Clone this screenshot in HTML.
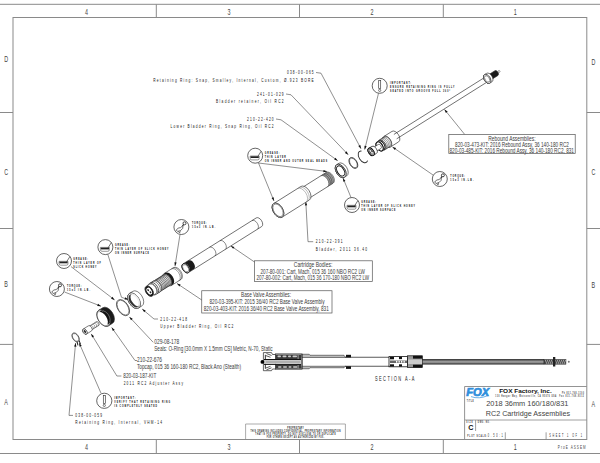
<!DOCTYPE html><html><head><meta charset="utf-8"><style>html,body{margin:0;padding:0;background:#fff;width:600px;height:463px;overflow:hidden}svg{display:block}</style></head><body>
<svg width="600" height="463" viewBox="0 0 600 463">
<rect width="600" height="463" fill="#fff"/>
<line x1="0.00" y1="4.30" x2="600.00" y2="4.30" stroke="#8a8a8a" stroke-width="1.0"/>
<line x1="0.00" y1="453.50" x2="600.00" y2="453.50" stroke="#8a8a8a" stroke-width="1.0"/>
<rect x="13" y="17.5" width="573.8" height="422" fill="none" stroke="#8a8a8a" stroke-width="1.0"/>
<line x1="156.30" y1="4.30" x2="156.30" y2="17.50" stroke="#8a8a8a" stroke-width="1.0"/>
<line x1="156.30" y1="439.50" x2="156.30" y2="453.50" stroke="#8a8a8a" stroke-width="1.0"/>
<line x1="299.50" y1="4.30" x2="299.50" y2="17.50" stroke="#8a8a8a" stroke-width="1.0"/>
<line x1="299.50" y1="439.50" x2="299.50" y2="453.50" stroke="#8a8a8a" stroke-width="1.0"/>
<line x1="443.30" y1="4.30" x2="443.30" y2="17.50" stroke="#8a8a8a" stroke-width="1.0"/>
<line x1="443.30" y1="439.50" x2="443.30" y2="453.50" stroke="#8a8a8a" stroke-width="1.0"/>
<line x1="0.00" y1="112.50" x2="13.00" y2="112.50" stroke="#8a8a8a" stroke-width="1.0"/>
<line x1="586.80" y1="112.50" x2="600.00" y2="112.50" stroke="#8a8a8a" stroke-width="1.0"/>
<line x1="0.00" y1="228.50" x2="13.00" y2="228.50" stroke="#8a8a8a" stroke-width="1.0"/>
<line x1="586.80" y1="228.50" x2="600.00" y2="228.50" stroke="#8a8a8a" stroke-width="1.0"/>
<line x1="0.00" y1="344.40" x2="13.00" y2="344.40" stroke="#8a8a8a" stroke-width="1.0"/>
<line x1="586.80" y1="344.40" x2="600.00" y2="344.40" stroke="#8a8a8a" stroke-width="1.0"/>
<text transform="translate(86.4,14.6) scale(0.55,1)" font-family='"Liberation Sans", sans-serif' font-size="9.8" text-anchor="middle" fill="#444">4</text>
<text transform="translate(86.4,450.2) scale(0.55,1)" font-family='"Liberation Sans", sans-serif' font-size="9.8" text-anchor="middle" fill="#444">4</text>
<text transform="translate(229,14.6) scale(0.55,1)" font-family='"Liberation Sans", sans-serif' font-size="9.8" text-anchor="middle" fill="#444">3</text>
<text transform="translate(229,450.2) scale(0.55,1)" font-family='"Liberation Sans", sans-serif' font-size="9.8" text-anchor="middle" fill="#444">3</text>
<text transform="translate(372,14.6) scale(0.55,1)" font-family='"Liberation Sans", sans-serif' font-size="9.8" text-anchor="middle" fill="#444">2</text>
<text transform="translate(372,450.2) scale(0.55,1)" font-family='"Liberation Sans", sans-serif' font-size="9.8" text-anchor="middle" fill="#444">2</text>
<text transform="translate(515.3,14.6) scale(0.55,1)" font-family='"Liberation Sans", sans-serif' font-size="9.8" text-anchor="middle" fill="#444">1</text>
<text transform="translate(515.3,450.2) scale(0.55,1)" font-family='"Liberation Sans", sans-serif' font-size="9.8" text-anchor="middle" fill="#444">1</text>
<text transform="translate(6.1,61.6) scale(0.55,1)" font-family='"Liberation Sans", sans-serif' font-size="9.8" text-anchor="middle" fill="#444">D</text>
<text transform="translate(6.1,175.0) scale(0.55,1)" font-family='"Liberation Sans", sans-serif' font-size="9.8" text-anchor="middle" fill="#444">C</text>
<text transform="translate(6.1,286.59999999999997) scale(0.55,1)" font-family='"Liberation Sans", sans-serif' font-size="9.8" text-anchor="middle" fill="#444">B</text>
<text transform="translate(6.1,405.2) scale(0.55,1)" font-family='"Liberation Sans", sans-serif' font-size="9.8" text-anchor="middle" fill="#444">A</text>
<text transform="translate(593.4,64.60000000000001) scale(0.55,1)" font-family='"Liberation Sans", sans-serif' font-size="9.8" text-anchor="middle" fill="#444">D</text>
<text transform="translate(593.4,175.20000000000002) scale(0.55,1)" font-family='"Liberation Sans", sans-serif' font-size="9.8" text-anchor="middle" fill="#444">C</text>
<text transform="translate(593.4,288.09999999999997) scale(0.55,1)" font-family='"Liberation Sans", sans-serif' font-size="9.8" text-anchor="middle" fill="#444">B</text>
<text transform="translate(593.4,406.7) scale(0.55,1)" font-family='"Liberation Sans", sans-serif' font-size="9.8" text-anchor="middle" fill="#444">A</text>
<text transform="translate(557.85,448.68) scale(0.55,1)" font-family='"Liberation Sans", sans-serif' font-size="5.6" fill="#444" font-weight="normal"textLength="50.55" lengthAdjust="spacing">ProE ASSEM</text>
<line x1="464.60" y1="386.50" x2="586.80" y2="386.50" stroke="#888" stroke-width="0.9"/>
<line x1="464.60" y1="386.50" x2="464.60" y2="439.50" stroke="#888" stroke-width="0.9"/>
<line x1="464.80" y1="420.00" x2="586.80" y2="420.00" stroke="#888" stroke-width="0.8"/>
<line x1="475.60" y1="420.00" x2="475.60" y2="431.00" stroke="#888" stroke-width="0.8"/>
<line x1="505.30" y1="432.30" x2="505.30" y2="439.50" stroke="#888" stroke-width="0.8"/>
<line x1="546.10" y1="432.30" x2="546.10" y2="439.50" stroke="#888" stroke-width="0.8"/>
<text transform="translate(466.2,396) scale(1.12,1)" font-family='"Liberation Sans", sans-serif' font-size="10.8" font-weight="bold" font-style="italic" fill="#2f8fdc" stroke="#2f8fdc" stroke-width="0.7" textLength="20.5" lengthAdjust="spacingAndGlyphs">FOX</text>
<path d="M471,396.6 Q479,399.5 488,395.5" stroke="#2f8fdc" stroke-width="0.7" fill="none"/>
<text x="499.20" y="393.16" font-family='"Liberation Sans", sans-serif' font-size="6.0" text-anchor="start" fill="#111" font-weight="bold" textLength="52.50" lengthAdjust="spacingAndGlyphs">FOX  Factory,  Inc.</text>
<text transform="translate(495.35,397.07) scale(0.6,1)" font-family='"Liberation Sans", sans-serif' font-size="2.9" fill="#333" font-weight="bold"textLength="101.67" lengthAdjust="spacing">130 Hangar Way, Watsonville, CA 95076 USA</text>
<text transform="translate(562.05,393.57) scale(0.6,1)" font-family='"Liberation Sans", sans-serif' font-size="2.9" fill="#333" font-weight="bold"textLength="36.33" lengthAdjust="spacing">Ph 831-768-1100</text>
<text transform="translate(559.35,397.07) scale(0.6,1)" font-family='"Liberation Sans", sans-serif' font-size="2.9" fill="#333" font-weight="bold"textLength="40.83" lengthAdjust="spacing">Fax 831-768-9312</text>
<text transform="translate(466.85,401.67) scale(0.6,1)" font-family='"Liberation Sans", sans-serif' font-size="2.9" fill="#333" font-weight="bold"textLength="11.33" lengthAdjust="spacing">TITLE</text>
<text x="486.20" y="405.84" font-family='"Liberation Sans", sans-serif' font-size="7.9" text-anchor="start" fill="#444" font-weight="normal" textLength="82.20" lengthAdjust="spacingAndGlyphs">2018 36mm 160/180/831</text>
<text x="485.80" y="415.84" font-family='"Liberation Sans", sans-serif' font-size="7.9" text-anchor="start" fill="#444" font-weight="normal" textLength="84.20" lengthAdjust="spacingAndGlyphs">RC2 Cartridge Assemblies</text>
<text transform="translate(466.15,422.67) scale(0.6,1)" font-family='"Liberation Sans", sans-serif' font-size="2.9" fill="#333" font-weight="bold"textLength="10.83" lengthAdjust="spacing">SIZE</text>
<text transform="translate(477.85,422.67) scale(0.6,1)" font-family='"Liberation Sans", sans-serif' font-size="2.9" fill="#333" font-weight="bold"textLength="20.17" lengthAdjust="spacing">DWG. NO.</text>
<text x="468.30" y="429.59" font-family='"Liberation Sans", sans-serif' font-size="7.2" text-anchor="start" fill="#111" font-weight="bold">C</text>
<text transform="translate(467.35,436.56) scale(0.6,1)" font-family='"Liberation Sans", sans-serif' font-size="3.2" fill="#333" font-weight="bold"textLength="32.75" lengthAdjust="spacing">PLOT SCALE:</text>
<text transform="translate(487.85,436.98) scale(0.5,1)" font-family='"Liberation Sans", sans-serif' font-size="4.6" fill="#222" font-weight="normal"textLength="29.80" lengthAdjust="spacing">0.50:1</text>
<text transform="translate(549.35,436.98) scale(0.5,1)" font-family='"Liberation Sans", sans-serif' font-size="4.6" fill="#222" font-weight="normal"textLength="65.32" lengthAdjust="spacing">SHEET 1 OF 1</text>
<path d="M245.6,439.5 V424 H345.4 V439.5" fill="none" stroke="#888" stroke-width="0.7"/>
<text transform="translate(287.35,428.80) scale(0.6,1)" font-family='"Liberation Sans", sans-serif' font-size="3.0" fill="#111" font-weight="bold"textLength="27.17" lengthAdjust="spacing">PROPRIETARY</text>
<text transform="translate(250.55,431.80) scale(0.6,1)" font-family='"Liberation Sans", sans-serif' font-size="3.0" fill="#111" font-weight="bold"textLength="149.83" lengthAdjust="spacing">THIS DRAWING INCLUDES CONFIDENTIAL, PROPRIETARY INFORMATION</text>
<text transform="translate(255.35,434.80) scale(0.6,1)" font-family='"Liberation Sans", sans-serif' font-size="3.0" fill="#111" font-weight="bold"textLength="133.83" lengthAdjust="spacing">THAT IS FOX PROPERTY. DO NOT DISCLOSE TO OR DUPLICATE</text>
<text transform="translate(266.85,437.80) scale(0.6,1)" font-family='"Liberation Sans", sans-serif' font-size="3.0" fill="#111" font-weight="bold"textLength="95.50" lengthAdjust="spacing">FOR OTHERS EXCEPT AS AUTHORIZED BY FOX.</text>
<rect x="448.8" y="134.5" width="126.40" height="19.10" fill="none" stroke="#555" stroke-width="0.7"/>
<text x="488.20" y="140.98" font-family='"Liberation Sans", sans-serif' font-size="6.6" text-anchor="start" fill="#3a3a3a" font-weight="normal" textLength="47.30" lengthAdjust="spacingAndGlyphs">Rebound Assemblies:</text>
<text x="455.10" y="147.08" font-family='"Liberation Sans", sans-serif' font-size="6.6" text-anchor="start" fill="#3a3a3a" font-weight="normal" textLength="113.80" lengthAdjust="spacingAndGlyphs">820-03-473-KIT: 2016 Rebound Assy, 36 140-180 RC2</text>
<text x="449.50" y="152.98" font-family='"Liberation Sans", sans-serif' font-size="6.6" text-anchor="start" fill="#3a3a3a" font-weight="normal" textLength="124.50" lengthAdjust="spacingAndGlyphs">820-03-485-KIT: 2016 Rebound Assy, 36 140-180 RC2, 831</text>
<rect x="254.5" y="260.8" width="117.80" height="20.60" fill="none" stroke="#555" stroke-width="0.7"/>
<text x="293.80" y="267.48" font-family='"Liberation Sans", sans-serif' font-size="6.6" text-anchor="start" fill="#3a3a3a" font-weight="normal" textLength="38.60" lengthAdjust="spacingAndGlyphs">Cartridge Bodies:</text>
<text x="260.50" y="273.98" font-family='"Liberation Sans", sans-serif' font-size="6.6" text-anchor="start" fill="#3a3a3a" font-weight="normal" textLength="104.50" lengthAdjust="spacingAndGlyphs">207-80-001: Cart, Mach, 015 36 160 NBO RC2 LW</text>
<text x="256.50" y="280.28" font-family='"Liberation Sans", sans-serif' font-size="6.6" text-anchor="start" fill="#3a3a3a" font-weight="normal" textLength="112.50" lengthAdjust="spacingAndGlyphs">207-80-002: Cart, Mach, 015 36 170-180 NBO RC2 LW</text>
<rect x="201.75" y="290.75" width="130.25" height="22.25" fill="none" stroke="#555" stroke-width="0.7"/>
<text x="241.00" y="297.48" font-family='"Liberation Sans", sans-serif' font-size="6.6" text-anchor="start" fill="#3a3a3a" font-weight="normal" textLength="50.00" lengthAdjust="spacingAndGlyphs">Base Valve Assemblies:</text>
<text x="209.50" y="304.48" font-family='"Liberation Sans", sans-serif' font-size="6.6" text-anchor="start" fill="#3a3a3a" font-weight="normal" textLength="115.00" lengthAdjust="spacingAndGlyphs">820-03-395-KIT: 2015 36/40 RC2 Base Valve Assembly</text>
<text x="203.75" y="310.73" font-family='"Liberation Sans", sans-serif' font-size="6.6" text-anchor="start" fill="#3a3a3a" font-weight="normal" textLength="125.00" lengthAdjust="spacingAndGlyphs">820-03-403-KIT: 2016 36/40 RC2 Base Valve Assembly, 831</text>
<text transform="translate(287.05,74.24) scale(0.55,1)" font-family='"Liberation Sans", sans-serif' font-size="5.8" fill="#111" font-weight="normal"textLength="48.36" lengthAdjust="spacing">038-00-065</text>
<text transform="translate(153.28,81.74) scale(0.55,1)" font-family='"Liberation Sans", sans-serif' font-size="5.8" fill="#111" font-weight="normal"textLength="291.58" lengthAdjust="spacing">Retaining Ring: Snap, Smalley, Internal, Custom, Ø.923 BORE</text>
<text transform="translate(257.05,95.74) scale(0.55,1)" font-family='"Liberation Sans", sans-serif' font-size="5.8" fill="#111" font-weight="normal"textLength="48.36" lengthAdjust="spacing">241-01-029</text>
<text transform="translate(216.10,103.04) scale(0.55,1)" font-family='"Liberation Sans", sans-serif' font-size="5.8" fill="#111" font-weight="normal"textLength="122.82" lengthAdjust="spacing">Bladder retainer, Oil RC2</text>
<text transform="translate(247.05,120.74) scale(0.55,1)" font-family='"Liberation Sans", sans-serif' font-size="5.8" fill="#111" font-weight="normal"textLength="48.36" lengthAdjust="spacing">210-22-420</text>
<text transform="translate(170.61,128.24) scale(0.55,1)" font-family='"Liberation Sans", sans-serif' font-size="5.8" fill="#111" font-weight="normal"textLength="187.35" lengthAdjust="spacing">Lower Bladder Ring, Snap Ring, Oil RC2</text>
<text transform="translate(315.85,243.44) scale(0.55,1)" font-family='"Liberation Sans", sans-serif' font-size="5.8" fill="#111" font-weight="normal"textLength="48.36" lengthAdjust="spacing">210-22-391</text>
<text transform="translate(315.85,250.54) scale(0.55,1)" font-family='"Liberation Sans", sans-serif' font-size="5.8" fill="#111" font-weight="normal"textLength="93.04" lengthAdjust="spacing">Bladder, 2011 36.40</text>
<text transform="translate(160.35,320.74) scale(0.55,1)" font-family='"Liberation Sans", sans-serif' font-size="5.8" fill="#111" font-weight="normal"textLength="48.36" lengthAdjust="spacing">210-22-418</text>
<text transform="translate(160.35,327.74) scale(0.55,1)" font-family='"Liberation Sans", sans-serif' font-size="5.8" fill="#111" font-weight="normal"textLength="132.75" lengthAdjust="spacing">Upper Bladder Ring, Oil RC2</text>
<text transform="translate(123.65,385.14) scale(0.55,1)" font-family='"Liberation Sans", sans-serif' font-size="5.8" fill="#111" font-weight="normal"textLength="107.93" lengthAdjust="spacing">2011 RC2 Adjuster Assy</text>
<text transform="translate(75.35,417.14) scale(0.55,1)" font-family='"Liberation Sans", sans-serif' font-size="5.8" fill="#111" font-weight="normal"textLength="48.36" lengthAdjust="spacing">038-00-059</text>
<text transform="translate(75.35,424.34) scale(0.55,1)" font-family='"Liberation Sans", sans-serif' font-size="5.8" fill="#111" font-weight="normal"textLength="157.56" lengthAdjust="spacing">Retaining Ring, Internal, VHM-14</text>
<text x="154.20" y="344.28" font-family='"Liberation Sans", sans-serif' font-size="6.6" text-anchor="start" fill="#3a3a3a" font-weight="normal" textLength="25.00" lengthAdjust="spacingAndGlyphs">029-08-178</text>
<text x="154.20" y="351.18" font-family='"Liberation Sans", sans-serif' font-size="6.6" text-anchor="start" fill="#3a3a3a" font-weight="normal" textLength="118.50" lengthAdjust="spacingAndGlyphs">Seals: O-Ring [30.0mm X 1.5mm CS] Metric, N-70, Static</text>
<text x="137.00" y="362.48" font-family='"Liberation Sans", sans-serif' font-size="6.6" text-anchor="start" fill="#3a3a3a" font-weight="normal" textLength="25.00" lengthAdjust="spacingAndGlyphs">210-22-676</text>
<text x="137.00" y="369.18" font-family='"Liberation Sans", sans-serif' font-size="6.6" text-anchor="start" fill="#3a3a3a" font-weight="normal" textLength="104.00" lengthAdjust="spacingAndGlyphs">Topcap, 015 36 160-180 RC2, Black Ano (Stealth)</text>
<text x="123.30" y="377.98" font-family='"Liberation Sans", sans-serif' font-size="6.6" text-anchor="start" fill="#3a3a3a" font-weight="normal" textLength="33.00" lengthAdjust="spacingAndGlyphs">820-03-187-KIT</text>
<text transform="translate(374.95,381.18) scale(0.6,1)" font-family='"Liberation Sans", sans-serif' font-size="6.6" fill="#222" font-weight="normal"textLength="65.83" lengthAdjust="spacing">SECTION  A-A</text>
<text transform="translate(390.05,83.64) scale(0.55,1)" font-family='"Liberation Sans", sans-serif' font-size="3.8" fill="#000" font-weight="bold"textLength="38.18" lengthAdjust="spacing">IMPORTANT:</text>
<text transform="translate(390.05,87.64) scale(0.55,1)" font-family='"Liberation Sans", sans-serif' font-size="3.8" fill="#000" font-weight="bold"textLength="117.09" lengthAdjust="spacing">ENSURE RETAINING RING IS FULLY</text>
<text transform="translate(390.05,91.64) scale(0.55,1)" font-family='"Liberation Sans", sans-serif' font-size="3.8" fill="#000" font-weight="bold"textLength="109.20" lengthAdjust="spacing">SEATED INTO GROOVE FULL 360°</text>
<text transform="translate(264.85,154.34) scale(0.55,1)" font-family='"Liberation Sans", sans-serif' font-size="3.8" fill="#000" font-weight="bold"textLength="26.35" lengthAdjust="spacing">GREASE:</text>
<text transform="translate(264.85,158.34) scale(0.55,1)" font-family='"Liberation Sans", sans-serif' font-size="3.8" fill="#000" font-weight="bold"textLength="38.18" lengthAdjust="spacing">THIN LAYER</text>
<text transform="translate(264.85,162.34) scale(0.55,1)" font-family='"Liberation Sans", sans-serif' font-size="3.8" fill="#000" font-weight="bold"textLength="113.15" lengthAdjust="spacing">ON INNER AND OUTER SEAL BEADS</text>
<text transform="translate(361.35,203.14) scale(0.55,1)" font-family='"Liberation Sans", sans-serif' font-size="3.8" fill="#000" font-weight="bold"textLength="26.35" lengthAdjust="spacing">GREASE:</text>
<text transform="translate(361.35,207.14) scale(0.55,1)" font-family='"Liberation Sans", sans-serif' font-size="3.8" fill="#000" font-weight="bold"textLength="97.36" lengthAdjust="spacing">THIN LAYER OF SLICK HONEY</text>
<text transform="translate(361.35,211.14) scale(0.55,1)" font-family='"Liberation Sans", sans-serif' font-size="3.8" fill="#000" font-weight="bold"textLength="61.85" lengthAdjust="spacing">ON INNER SURFACE</text>
<text transform="translate(450.35,177.34) scale(0.55,1)" font-family='"Liberation Sans", sans-serif' font-size="3.8" fill="#000" font-weight="bold"textLength="26.35" lengthAdjust="spacing">TORQUE:</text>
<text transform="translate(450.35,181.34) scale(0.55,1)" font-family='"Liberation Sans", sans-serif' font-size="3.8" fill="#000" font-weight="bold"textLength="42.13" lengthAdjust="spacing">15±3 IN.LB.</text>
<text transform="translate(192.05,224.34) scale(0.55,1)" font-family='"Liberation Sans", sans-serif' font-size="3.8" fill="#000" font-weight="bold"textLength="26.35" lengthAdjust="spacing">TORQUE:</text>
<text transform="translate(192.05,228.34) scale(0.55,1)" font-family='"Liberation Sans", sans-serif' font-size="3.8" fill="#000" font-weight="bold"textLength="42.13" lengthAdjust="spacing">15±3 IN.LB.</text>
<text transform="translate(114.95,245.74) scale(0.55,1)" font-family='"Liberation Sans", sans-serif' font-size="3.8" fill="#000" font-weight="bold"textLength="26.35" lengthAdjust="spacing">GREASE:</text>
<text transform="translate(114.95,249.74) scale(0.55,1)" font-family='"Liberation Sans", sans-serif' font-size="3.8" fill="#000" font-weight="bold"textLength="97.36" lengthAdjust="spacing">THIN LAYER OF SLICK HONEY</text>
<text transform="translate(114.95,253.74) scale(0.55,1)" font-family='"Liberation Sans", sans-serif' font-size="3.8" fill="#000" font-weight="bold"textLength="61.85" lengthAdjust="spacing">ON INNER SURFACE</text>
<text transform="translate(73.35,259.74) scale(0.55,1)" font-family='"Liberation Sans", sans-serif' font-size="3.8" fill="#000" font-weight="bold"textLength="26.35" lengthAdjust="spacing">GREASE:</text>
<text transform="translate(73.35,263.74) scale(0.55,1)" font-family='"Liberation Sans", sans-serif' font-size="3.8" fill="#000" font-weight="bold"textLength="50.02" lengthAdjust="spacing">THIN LAYER OF</text>
<text transform="translate(73.35,267.74) scale(0.55,1)" font-family='"Liberation Sans", sans-serif' font-size="3.8" fill="#000" font-weight="bold"textLength="42.13" lengthAdjust="spacing">SLICK HONEY</text>
<text transform="translate(66.95,287.34) scale(0.55,1)" font-family='"Liberation Sans", sans-serif' font-size="3.8" fill="#000" font-weight="bold"textLength="26.35" lengthAdjust="spacing">TORQUE:</text>
<text transform="translate(66.95,291.34) scale(0.55,1)" font-family='"Liberation Sans", sans-serif' font-size="3.8" fill="#000" font-weight="bold"textLength="42.13" lengthAdjust="spacing">15±3 IN.LB.</text>
<text transform="translate(114.35,398.74) scale(0.55,1)" font-family='"Liberation Sans", sans-serif' font-size="3.8" fill="#000" font-weight="bold"textLength="38.18" lengthAdjust="spacing">IMPORTANT:</text>
<text transform="translate(114.35,402.74) scale(0.55,1)" font-family='"Liberation Sans", sans-serif' font-size="3.8" fill="#000" font-weight="bold"textLength="101.31" lengthAdjust="spacing">VERIFY THAT RETAINING RING</text>
<text transform="translate(114.35,406.74) scale(0.55,1)" font-family='"Liberation Sans", sans-serif' font-size="3.8" fill="#000" font-weight="bold"textLength="77.64" lengthAdjust="spacing">IS COMPLETELY SEATED</text>
<circle cx="379.7" cy="85.8" r="7.5" fill="none" stroke="#333" stroke-width="0.75"/>
<rect x="378.7" y="80.39999999999999" width="2" height="8.2" fill="#fff" stroke="#333" stroke-width="0.65"/>
<circle cx="379.7" cy="90.39999999999999" r="1.1" fill="none" stroke="#333" stroke-width="0.65"/>
<circle cx="104.3" cy="400.8" r="7.6" fill="none" stroke="#333" stroke-width="0.75"/>
<rect x="103.3" y="395.40000000000003" width="2" height="8.2" fill="#fff" stroke="#333" stroke-width="0.65"/>
<circle cx="104.3" cy="405.40000000000003" r="1.1" fill="none" stroke="#333" stroke-width="0.65"/>
<circle cx="255.2" cy="155.7" r="7.5" fill="none" stroke="#333" stroke-width="0.75"/>
<path d="M250.2,156.0 H259.2 V158.29999999999998 Q259.2,159.89999999999998 257.59999999999997,159.89999999999998 H251.79999999999998 Q250.2,159.89999999999998 250.2,158.29999999999998 Z" fill="none" stroke="#333" stroke-width="0.5"/>
<rect x="250.6" y="156.29999999999998" width="8.2" height="1.7" fill="#222"/>
<line x1="257.80" y1="156.50" x2="261.10" y2="151.30" stroke="#333" stroke-width="0.7"/>
<circle cx="352" cy="205" r="7.5" fill="none" stroke="#333" stroke-width="0.75"/>
<path d="M347,205.3 H356 V207.6 Q356,209.2 354.4,209.2 H348.6 Q347,209.2 347,207.6 Z" fill="none" stroke="#333" stroke-width="0.5"/>
<rect x="347.4" y="205.6" width="8.2" height="1.7" fill="#222"/>
<line x1="354.60" y1="205.80" x2="357.90" y2="200.60" stroke="#333" stroke-width="0.7"/>
<circle cx="105.4" cy="247.1" r="7.5" fill="none" stroke="#333" stroke-width="0.75"/>
<path d="M100.4,247.4 H109.4 V249.7 Q109.4,251.29999999999998 107.80000000000001,251.29999999999998 H102.0 Q100.4,251.29999999999998 100.4,249.7 Z" fill="none" stroke="#333" stroke-width="0.5"/>
<rect x="100.80000000000001" y="247.7" width="8.2" height="1.7" fill="#222"/>
<line x1="108.00" y1="247.90" x2="111.30" y2="242.70" stroke="#333" stroke-width="0.7"/>
<circle cx="64" cy="261" r="7.5" fill="none" stroke="#333" stroke-width="0.75"/>
<path d="M59,261.3 H68 V263.6 Q68,265.2 66.4,265.2 H60.6 Q59,265.2 59,263.6 Z" fill="none" stroke="#333" stroke-width="0.5"/>
<rect x="59.4" y="261.6" width="8.2" height="1.7" fill="#222"/>
<line x1="66.60" y1="261.80" x2="69.90" y2="256.60" stroke="#333" stroke-width="0.7"/>
<circle cx="439.8" cy="179" r="7.5" fill="none" stroke="#333" stroke-width="0.75"/>
<path d="M434.6,182.2 Q436.3,179.2 439.0,179.6 L441.40000000000003,177.4 L441.1,180.4 Q439.3,183.2 436.2,183.4 Z" fill="#fff" stroke="#333" stroke-width="0.7"/>
<path d="M436.8,183.3 L438.0,185 L438.8,182.8" fill="none" stroke="#333" stroke-width="0.6"/>
<line x1="441.00" y1="177.80" x2="442.10" y2="176.40" stroke="#333" stroke-width="1.1"/>
<circle cx="442.90000000000003" cy="175.3" r="1.5" fill="none" stroke="#333" stroke-width="0.9"/>
<circle cx="181.4" cy="227" r="7.5" fill="none" stroke="#333" stroke-width="0.75"/>
<path d="M176.20000000000002,230.2 Q177.9,227.2 180.6,227.6 L183.0,225.4 L182.70000000000002,228.4 Q180.9,231.2 177.8,231.4 Z" fill="#fff" stroke="#333" stroke-width="0.7"/>
<path d="M178.4,231.3 L179.6,233 L180.4,230.8" fill="none" stroke="#333" stroke-width="0.6"/>
<line x1="182.60" y1="225.80" x2="183.70" y2="224.40" stroke="#333" stroke-width="1.1"/>
<circle cx="184.5" cy="223.3" r="1.5" fill="none" stroke="#333" stroke-width="0.9"/>
<circle cx="56.9" cy="289" r="7.5" fill="none" stroke="#333" stroke-width="0.75"/>
<path d="M51.699999999999996,292.2 Q53.4,289.2 56.1,289.6 L58.5,287.4 L58.199999999999996,290.4 Q56.4,293.2 53.3,293.4 Z" fill="#fff" stroke="#333" stroke-width="0.7"/>
<path d="M53.9,293.3 L55.1,295 L55.9,292.8" fill="none" stroke="#333" stroke-width="0.6"/>
<line x1="58.10" y1="287.80" x2="59.20" y2="286.40" stroke="#333" stroke-width="1.1"/>
<circle cx="60.0" cy="285.3" r="1.5" fill="none" stroke="#333" stroke-width="0.9"/>
<path d="M316.00,72.50 L321.00,73.20 L361.00,148.70" stroke="#333" stroke-width="0.55" fill="none"/>
<path d="M361.00,148.70 L358.30,146.06 L360.33,144.98 Z" fill="#111"/>
<path d="M286.00,94.00 L291.00,94.80 L348.20,154.70" stroke="#333" stroke-width="0.55" fill="none"/>
<path d="M348.20,154.70 L344.88,152.89 L346.55,151.30 Z" fill="#111"/>
<path d="M276.00,119.00 L281.00,119.80 L337.70,160.70" stroke="#333" stroke-width="0.55" fill="none"/>
<path d="M337.70,160.70 L334.11,159.53 L335.45,157.66 Z" fill="#111"/>
<path d="M378.50,93.30 L364.70,149.50" stroke="#333" stroke-width="0.55" fill="none"/>
<path d="M364.70,149.50 L364.44,145.73 L366.68,146.28 Z" fill="#111"/>
<path d="M258.50,163.00 L274.00,201.00" stroke="#333" stroke-width="0.55" fill="none"/>
<path d="M274.00,201.00 L271.58,198.10 L273.71,197.23 Z" fill="#111"/>
<path d="M258.50,163.00 L327.00,171.50" stroke="#333" stroke-width="0.55" fill="none"/>
<path d="M327.00,171.50 L323.29,172.20 L323.57,169.92 Z" fill="#111"/>
<path d="M351.00,197.50 L343.00,178.00" stroke="#333" stroke-width="0.55" fill="none"/>
<path d="M343.00,178.00 L345.43,180.89 L343.30,181.77 Z" fill="#111"/>
<path d="M433.00,175.00 L392.50,147.00" stroke="#333" stroke-width="0.55" fill="none"/>
<path d="M392.50,147.00 L396.12,148.10 L394.81,149.99 Z" fill="#111"/>
<path d="M464.50,134.20 L444.50,109.50" stroke="#333" stroke-width="0.55" fill="none"/>
<path d="M444.50,109.50 L447.66,111.57 L445.87,113.02 Z" fill="#111"/>
<path d="M313.20,241.70 L308.00,241.70 L305.80,201.80" stroke="#333" stroke-width="0.55" fill="none"/>
<path d="M305.80,201.80 L307.15,205.33 L304.85,205.46 Z" fill="#111"/>
<path d="M254.50,262.00 L230.80,245.90" stroke="#333" stroke-width="0.55" fill="none"/>
<path d="M230.80,245.90 L234.42,246.97 L233.13,248.87 Z" fill="#111"/>
<path d="M201.75,300.00 L177.00,283.50" stroke="#333" stroke-width="0.55" fill="none"/>
<path d="M177.00,283.50 L180.63,284.54 L179.36,286.45 Z" fill="#111"/>
<path d="M180.00,234.50 L175.00,266.00" stroke="#333" stroke-width="0.55" fill="none"/>
<path d="M175.00,266.00 L174.43,262.26 L176.70,262.62 Z" fill="#111"/>
<path d="M107.80,254.40 L121.50,297.30 L128.30,299.60" stroke="#333" stroke-width="0.55" fill="none"/>
<path d="M128.30,299.60 L124.52,299.54 L125.26,297.36 Z" fill="#111"/>
<path d="M71.00,266.60 L114.60,299.90" stroke="#333" stroke-width="0.55" fill="none"/>
<path d="M114.60,299.90 L111.04,298.63 L112.44,296.80 Z" fill="#111"/>
<path d="M64.50,292.00 L101.00,306.20" stroke="#333" stroke-width="0.55" fill="none"/>
<path d="M101.00,306.20 L97.23,305.97 L98.06,303.82 Z" fill="#111"/>
<path d="M158.00,319.00 L154.00,319.00 L142.20,309.00" stroke="#333" stroke-width="0.55" fill="none"/>
<path d="M142.20,309.00 L145.69,310.45 L144.20,312.20 Z" fill="#111"/>
<path d="M153.20,342.30 L129.40,316.90" stroke="#333" stroke-width="0.55" fill="none"/>
<path d="M129.40,316.90 L132.70,318.74 L131.02,320.31 Z" fill="#111"/>
<path d="M137.00,360.50 L135.00,360.50 L111.70,327.50" stroke="#333" stroke-width="0.55" fill="none"/>
<path d="M111.70,327.50 L114.72,329.78 L112.84,331.10 Z" fill="#111"/>
<path d="M121.40,376.00 L116.90,376.00 L91.20,333.90" stroke="#333" stroke-width="0.55" fill="none"/>
<path d="M91.20,333.90 L94.06,336.37 L92.09,337.57 Z" fill="#111"/>
<path d="M73.00,415.40 L69.00,415.40 L75.60,343.00" stroke="#333" stroke-width="0.55" fill="none"/>
<path d="M75.60,343.00 L76.42,346.69 L74.13,346.48 Z" fill="#111"/>
<path d="M101.00,393.20 L79.20,343.00" stroke="#333" stroke-width="0.55" fill="none"/>
<path d="M79.20,343.00 L81.69,345.84 L79.58,346.76 Z" fill="#111"/>
<g transform="translate(75.6,337.4) rotate(-32.13)">
<ellipse cx="0.00" cy="0" rx="3.00" ry="5.00" fill="none" stroke="#2a2a2a" stroke-width="0.6"/>
<ellipse cx="0.00" cy="0" rx="2.58" ry="4.30" fill="none" stroke="#2a2a2a" stroke-width="0.45"/>
<path d="M-1.2,4.6 L-2.2,8 M1.2,4.6 L0.6,8.2" stroke="#111" stroke-width="0.9"/>
<path d="M17.00,-2.20 L26.00,-2.20 A1.32,2.20 0 0 1 26.00,2.20 L17.00,2.20 A1.32,2.20 0 0 1 17.00,-2.20 Z" fill="#fff" stroke="#2a2a2a" stroke-width="0.5"/>
<ellipse cx="17.00" cy="0" rx="1.32" ry="2.20" fill="#fff" stroke="#2a2a2a" stroke-width="0.5"/>
<path d="M19.00,-2.20 A1.32,2.20 0 0 1 19.00,2.20" fill="none" stroke="#2a2a2a" stroke-width="0.4"/>
<path d="M21.00,-2.20 A1.32,2.20 0 0 1 21.00,2.20" fill="none" stroke="#2a2a2a" stroke-width="0.4"/>
<path d="M23.00,-2.20 A1.32,2.20 0 0 1 23.00,2.20" fill="none" stroke="#2a2a2a" stroke-width="0.4"/>
<path d="M25.00,-2.20 A1.32,2.20 0 0 1 25.00,2.20" fill="none" stroke="#2a2a2a" stroke-width="0.4"/>
<path d="M11.00,-3.00 L17.00,-3.00 A1.80,3.00 0 0 1 17.00,3.00 L11.00,3.00 A1.80,3.00 0 0 1 11.00,-3.00 Z" fill="#fff" stroke="#2a2a2a" stroke-width="0.55"/>
<ellipse cx="11.00" cy="0" rx="1.80" ry="3.00" fill="#fff" stroke="#2a2a2a" stroke-width="0.55"/>
<ellipse cx="11.00" cy="0" rx="1.80" ry="3.00" fill="#fff" stroke="#2a2a2a" stroke-width="0.55"/>
<ellipse cx="11" cy="0" rx="1.0" ry="1.7" fill="#333"/>
<g transform="translate(1,-1.5)">
<path d="M33.00,-9.20 L37.80,-9.20 A5.52,9.20 0 0 1 37.80,9.20 L33.00,9.20 A5.52,9.20 0 0 1 33.00,-9.20 Z" fill="#1a1a1a" stroke="#2a2a2a" stroke-width="0.6"/>
<ellipse cx="33.00" cy="0" rx="5.52" ry="9.20" fill="#fff" stroke="#2a2a2a" stroke-width="0.6"/>
<ellipse cx="33.00" cy="0" rx="4.98" ry="8.30" fill="#fff" stroke="#2a2a2a" stroke-width="0.45"/>
<ellipse cx="34.4" cy="0" rx="4.5" ry="7.7" fill="#111"/>
<ellipse cx="32.0" cy="0" rx="3.9" ry="7.4" fill="#fff"/>
<path d="M35.2,-6.5 A3.6,6.5 0 0 1 35.2,6.5" fill="none" stroke="#999" stroke-width="0.5"/>
</g>
<ellipse cx="56.00" cy="0" rx="5.34" ry="8.90" fill="none" stroke="#2a2a2a" stroke-width="0.65"/>
<ellipse cx="56.00" cy="0" rx="4.86" ry="8.10" fill="none" stroke="#2a2a2a" stroke-width="0.45"/>
<path d="M69.00,-8.60 L73.00,-8.60 A5.16,8.60 0 0 1 73.00,8.60 L69.00,8.60 A5.16,8.60 0 0 1 69.00,-8.60 Z" fill="#fff" stroke="#2a2a2a" stroke-width="0.55"/>
<ellipse cx="69.00" cy="0" rx="5.16" ry="8.60" fill="#fff" stroke="#2a2a2a" stroke-width="0.55"/>
<ellipse cx="69.00" cy="0" rx="5.16" ry="8.60" fill="#fff" stroke="#2a2a2a" stroke-width="0.55"/>
<ellipse cx="69" cy="0" rx="4.4" ry="7.4" fill="#333"/>
<ellipse cx="70.4" cy="0" rx="3.6" ry="6.8" fill="#fff"/>
<path d="M68.60,-7.00 A4.20,7.00 0 0 1 68.60,7.00" fill="none" stroke="#ddd" stroke-width="0.4"/>
<path d="M69.60,-7.00 A4.20,7.00 0 0 1 69.60,7.00" fill="none" stroke="#ddd" stroke-width="0.4"/>
<path d="M109.00,-7.00 L120.00,-7.00 A4.20,7.00 0 0 1 120.00,7.00 L109.00,7.00 A4.20,7.00 0 0 1 109.00,-7.00 Z" fill="#fff" stroke="#2a2a2a" stroke-width="0.55"/>
<ellipse cx="109.00" cy="0" rx="4.20" ry="7.00" fill="#fff" stroke="#2a2a2a" stroke-width="0.55"/>
<path d="M117.50,-7.00 A4.20,7.00 0 0 1 117.50,7.00" fill="none" stroke="#2a2a2a" stroke-width="0.4"/>
<path d="M119.00,-7.00 A4.20,7.00 0 0 1 119.00,7.00" fill="none" stroke="#2a2a2a" stroke-width="0.4"/>
<path d="M107.50,-6.80 L110.50,-6.80 A4.08,6.80 0 0 1 110.50,6.80 L107.50,6.80 A4.08,6.80 0 0 0 107.50,-6.80 Z" fill="#1a1a1a"/>
<path d="M96.00,-6.20 L108.00,-6.20 A3.72,6.20 0 0 1 108.00,6.20 L96.00,6.20 A3.72,6.20 0 0 1 96.00,-6.20 Z" fill="#fff" stroke="#2a2a2a" stroke-width="0.55"/>
<ellipse cx="96.00" cy="0" rx="3.72" ry="6.20" fill="#fff" stroke="#2a2a2a" stroke-width="0.55"/>
<path d="M97.00,-6.20 A3.72,6.20 0 0 1 97.00,6.20" fill="none" stroke="#222" stroke-width="0.55"/>
<path d="M98.30,-6.20 A3.72,6.20 0 0 1 98.30,6.20" fill="none" stroke="#222" stroke-width="0.55"/>
<path d="M99.60,-6.20 A3.72,6.20 0 0 1 99.60,6.20" fill="none" stroke="#222" stroke-width="0.55"/>
<path d="M100.90,-6.20 A3.72,6.20 0 0 1 100.90,6.20" fill="none" stroke="#222" stroke-width="0.55"/>
<path d="M102.20,-6.20 A3.72,6.20 0 0 1 102.20,6.20" fill="none" stroke="#222" stroke-width="0.55"/>
<path d="M103.50,-6.20 A3.72,6.20 0 0 1 103.50,6.20" fill="none" stroke="#222" stroke-width="0.55"/>
<path d="M104.80,-6.20 A3.72,6.20 0 0 1 104.80,6.20" fill="none" stroke="#222" stroke-width="0.55"/>
<path d="M106.10,-6.20 A3.72,6.20 0 0 1 106.10,6.20" fill="none" stroke="#222" stroke-width="0.55"/>
<path d="M107.40,-6.20 A3.72,6.20 0 0 1 107.40,6.20" fill="none" stroke="#222" stroke-width="0.55"/>
<path d="M91.00,-6.40 L96.00,-6.40 A3.84,6.40 0 0 1 96.00,6.40 L91.00,6.40 A3.84,6.40 0 0 1 91.00,-6.40 Z" fill="#fff" stroke="#2a2a2a" stroke-width="0.55"/>
<ellipse cx="91.00" cy="0" rx="3.84" ry="6.40" fill="#fff" stroke="#2a2a2a" stroke-width="0.55"/>
<path d="M92.50,-6.40 A3.84,6.40 0 0 1 92.50,6.40" fill="none" stroke="#2a2a2a" stroke-width="0.7"/>
<path d="M94.50,-6.40 A3.84,6.40 0 0 1 94.50,6.40" fill="none" stroke="#2a2a2a" stroke-width="0.5"/>
<path d="M87.00,-5.60 L91.00,-5.60 A3.36,5.60 0 0 1 91.00,5.60 L87.00,5.60 A3.36,5.60 0 0 1 87.00,-5.60 Z" fill="#fff" stroke="#2a2a2a" stroke-width="0.55"/>
<ellipse cx="87.00" cy="0" rx="3.36" ry="5.60" fill="#fff" stroke="#2a2a2a" stroke-width="0.55"/>
<ellipse cx="87.00" cy="0" rx="3.36" ry="5.60" fill="#111" stroke="#2a2a2a" stroke-width="0.5"/>
<ellipse cx="87" cy="0" rx="2.3" ry="3.8" fill="#fff"/>
<ellipse cx="86.6" cy="-1.5" rx="0.8" ry="1.1" fill="#222"/><ellipse cx="87.4" cy="1.6" rx="0.8" ry="1.1" fill="#222"/>
<path d="M130.00,-5.10 L216.50,-5.10 A3.06,5.10 0 0 1 216.50,5.10 L130.00,5.10 A3.06,5.10 0 0 1 130.00,-5.10 Z" fill="#fff" stroke="#2a2a2a" stroke-width="0.6"/>
<ellipse cx="130.00" cy="0" rx="3.06" ry="5.10" fill="#fff" stroke="#2a2a2a" stroke-width="0.6"/>
<path d="M130.50,-5.10 L136.50,-5.10 A3.06,5.10 0 0 1 136.50,5.10 L130.50,5.10 A3.06,5.10 0 0 0 130.50,-5.10 Z" fill="#1a1a1a"/>
<ellipse cx="130.00" cy="0" rx="3.06" ry="5.10" fill="#fff" stroke="#111" stroke-width="0.8"/>
<ellipse cx="130.00" cy="0" rx="2.40" ry="4.00" fill="#fff" stroke="#2a2a2a" stroke-width="0.45"/>
<path d="M161.30,-5.10 A3.06,5.10 0 0 1 161.30,5.10" fill="none" stroke="#2a2a2a" stroke-width="0.5"/>
<path d="M173.60,-5.10 A3.06,5.10 0 0 1 173.60,5.10" fill="none" stroke="#2a2a2a" stroke-width="0.5"/>
<path d="M211.50,-5.10 A3.06,5.10 0 0 1 211.50,5.10" fill="none" stroke="#2a2a2a" stroke-width="0.5"/>
<path d="M270.00,-6.40 L300.00,-6.40 A3.84,6.40 0 0 1 300.00,6.40 L270.00,6.40 A3.84,6.40 0 0 1 270.00,-6.40 Z" fill="#fff" stroke="#2a2a2a" stroke-width="0.6"/>
<ellipse cx="270.00" cy="0" rx="3.84" ry="6.40" fill="#fff" stroke="#2a2a2a" stroke-width="0.6"/>
<path d="M293.50,-6.40 L299.00,-6.40 A3.84,6.40 0 0 1 299.00,6.40 L293.50,6.40 A3.84,6.40 0 0 0 293.50,-6.40 Z" fill="#999"/>
<path d="M293.50,-6.40 A3.84,6.40 0 0 1 293.50,6.40" fill="none" stroke="#333" stroke-width="0.5"/>
<path d="M295.30,-6.40 A3.84,6.40 0 0 1 295.30,6.40" fill="none" stroke="#333" stroke-width="0.5"/>
<path d="M297.10,-6.40 A3.84,6.40 0 0 1 297.10,6.40" fill="none" stroke="#333" stroke-width="0.5"/>
<path d="M299.00,-6.40 A3.84,6.40 0 0 1 299.00,6.40" fill="none" stroke="#333" stroke-width="0.5"/>
<path d="M239.00,-8.00 L271.00,-8.00 A4.80,8.00 0 0 1 271.00,8.00 L239.00,8.00 A4.80,8.00 0 0 1 239.00,-8.00 Z" fill="#fff" stroke="#2a2a2a" stroke-width="0.6"/>
<ellipse cx="239.00" cy="0" rx="4.80" ry="8.00" fill="#fff" stroke="#2a2a2a" stroke-width="0.6"/>
<ellipse cx="239.00" cy="0" rx="4.80" ry="8.00" fill="#fff" stroke="#2a2a2a" stroke-width="0.6"/>
<ellipse cx="239.00" cy="0" rx="4.20" ry="7.00" fill="#fff" stroke="#2a2a2a" stroke-width="0.5"/>
<path d="M267.00,-8.00 A4.80,8.00 0 0 1 267.00,8.00" fill="none" stroke="#777" stroke-width="0.45"/>
<path d="M269.00,-8.00 A4.80,8.00 0 0 1 269.00,8.00" fill="none" stroke="#777" stroke-width="0.45"/>
<path d="M313.00,-7.40 L315.50,-7.40 A4.44,7.40 0 0 1 315.50,7.40 L313.00,7.40 A4.44,7.40 0 0 1 313.00,-7.40 Z" fill="#fff" stroke="#2a2a2a" stroke-width="0.6"/>
<ellipse cx="313.00" cy="0" rx="4.44" ry="7.40" fill="#fff" stroke="#2a2a2a" stroke-width="0.6"/>
<ellipse cx="313.00" cy="0" rx="4.44" ry="7.40" fill="#fff" stroke="#2a2a2a" stroke-width="0.7"/>
<ellipse cx="313.00" cy="0" rx="3.36" ry="5.60" fill="#fff" stroke="#111" stroke-width="1.0"/>
<ellipse cx="328.00" cy="0" rx="3.60" ry="6.00" fill="none" stroke="#2a2a2a" stroke-width="0.8"/>
<ellipse cx="328.00" cy="0" rx="3.12" ry="5.20" fill="none" stroke="#2a2a2a" stroke-width="0.45"/>
<path d="M341.25,-5.66 A3.90,6.5 0 1 0 341.25,5.66" fill="none" stroke="#2a2a2a" stroke-width="0.9"/>
<path d="M368.00,-6.20 L377.50,-6.20 A3.72,6.20 0 0 1 377.50,6.20 L368.00,6.20 A3.72,6.20 0 0 1 368.00,-6.20 Z" fill="#fff" stroke="#2a2a2a" stroke-width="0.6"/>
<ellipse cx="368.00" cy="0" rx="3.72" ry="6.20" fill="#fff" stroke="#2a2a2a" stroke-width="0.6"/>
<path d="M362.00,-5.60 L368.00,-5.60 A3.36,5.60 0 0 1 368.00,5.60 L362.00,5.60 A3.36,5.60 0 0 1 362.00,-5.60 Z" fill="#fff" stroke="#2a2a2a" stroke-width="0.6"/>
<ellipse cx="362.00" cy="0" rx="3.36" ry="5.60" fill="#fff" stroke="#2a2a2a" stroke-width="0.6"/>
<path d="M363.50,-5.60 A3.36,5.60 0 0 1 363.50,5.60" fill="none" stroke="#333" stroke-width="0.45"/>
<path d="M365.00,-5.60 A3.36,5.60 0 0 1 365.00,5.60" fill="none" stroke="#333" stroke-width="0.45"/>
<path d="M366.50,-5.60 A3.36,5.60 0 0 1 366.50,5.60" fill="none" stroke="#333" stroke-width="0.45"/>
<path d="M359.00,-5.00 L362.00,-5.00 A3.00,5.00 0 0 1 362.00,5.00 L359.00,5.00 A3.00,5.00 0 0 1 359.00,-5.00 Z" fill="#fff" stroke="#2a2a2a" stroke-width="0.6"/>
<ellipse cx="359.00" cy="0" rx="3.00" ry="5.00" fill="#fff" stroke="#2a2a2a" stroke-width="0.6"/>
<ellipse cx="359.00" cy="0" rx="3.00" ry="5.00" fill="#fff" stroke="#111" stroke-width="1.1"/>
<path d="M361.00,-5.00 A3.00,5.00 0 0 1 361.00,5.00" fill="none" stroke="#111" stroke-width="0.9"/>
<path d="M352.50,-2.40 L359.00,-2.40 A1.44,2.40 0 0 1 359.00,2.40 L352.50,2.40 A1.44,2.40 0 0 1 352.50,-2.40 Z" fill="#fff" stroke="#2a2a2a" stroke-width="0.6"/>
<ellipse cx="352.50" cy="0" rx="1.44" ry="2.40" fill="#fff" stroke="#2a2a2a" stroke-width="0.6"/>
<path d="M349.00,-4.20 L352.50,-4.20 A2.52,4.20 0 0 1 352.50,4.20 L349.00,4.20 A2.52,4.20 0 0 1 349.00,-4.20 Z" fill="#fff" stroke="#2a2a2a" stroke-width="0.7"/>
<ellipse cx="349.00" cy="0" rx="2.52" ry="4.20" fill="#fff" stroke="#2a2a2a" stroke-width="0.7"/>
<ellipse cx="349.00" cy="0" rx="2.52" ry="4.20" fill="#fff" stroke="#111" stroke-width="1.0"/>
<ellipse cx="349" cy="0" rx="2.0" ry="3.1" fill="#555"/>
<ellipse cx="348.8" cy="-1.2" rx="0.8" ry="1.0" fill="#fff"/><ellipse cx="349.2" cy="1.3" rx="0.8" ry="1.0" fill="#fff"/>
<line x1="377.50" y1="-2.60" x2="486.00" y2="-2.60" stroke="#2a2a2a" stroke-width="0.6"/>
<line x1="377.50" y1="2.60" x2="486.00" y2="2.60" stroke="#2a2a2a" stroke-width="0.6"/>
<path d="M488.50,-2.80 L497.00,-2.80 A1.68,2.80 0 0 1 497.00,2.80 L488.50,2.80 A1.68,2.80 0 0 1 488.50,-2.80 Z" fill="#1a1a1a" stroke="#2a2a2a" stroke-width="0.6"/>
<ellipse cx="488.50" cy="0" rx="1.68" ry="2.80" fill="#1a1a1a" stroke="#2a2a2a" stroke-width="0.6"/>
<path d="M486.00,-5.00 L488.50,-5.00 A3.00,5.00 0 0 1 488.50,5.00 L486.00,5.00 A3.00,5.00 0 0 1 486.00,-5.00 Z" fill="#fff" stroke="#2a2a2a" stroke-width="0.6"/>
<ellipse cx="486.00" cy="0" rx="3.00" ry="5.00" fill="#fff" stroke="#2a2a2a" stroke-width="0.6"/>
<ellipse cx="486.00" cy="0" rx="3.00" ry="5.00" fill="#fff" stroke="#2a2a2a" stroke-width="0.6"/>
<ellipse cx="486.00" cy="0" rx="2.16" ry="3.60" fill="#fff" stroke="#2a2a2a" stroke-width="0.5"/>
<circle cx="500" cy="0" r="1" fill="none" stroke="#555" stroke-width="0.5"/>
</g>
<path d="M263.4,352.6 H271.5 L272.5,354.5 H275.5 V369 H272.5 L271.5,370.7 H263.4 Z" fill="#fff" stroke="#222" stroke-width="0.7"/>
<path d="M265,355.3 L270.5,357.3 M265,368.3 L270.5,366.3 M266.5,353.5 L271.5,355.5 M266.5,369.8 L271.5,367.8" stroke="#333" stroke-width="0.8"/>
<rect x="264.8" y="354.8" width="1.2" height="13.8" fill="#555"/>
<rect x="275.5" y="353.9" width="26.5" height="15.3" fill="#fff" stroke="#222" stroke-width="0.7"/>
<path d="M276,354.5 H301 V359.2 H276 Z M276,364.4 H301 V368.7 H276 Z" fill="#3a3a3a"/>
<rect x="277.5" y="355.6" width="3.5" height="1.6" rx="0.8" fill="#ccc"/>
<rect x="278.0" y="366.2" width="3.5" height="1.6" rx="0.8" fill="#ccc"/>
<rect x="282.5" y="355.6" width="4" height="1.6" rx="0.8" fill="#ccc"/>
<rect x="283.0" y="366.2" width="4" height="1.6" rx="0.8" fill="#ccc"/>
<rect x="288" y="355.6" width="3" height="1.6" rx="0.8" fill="#ccc"/>
<rect x="288.5" y="366.2" width="3" height="1.6" rx="0.8" fill="#ccc"/>
<rect x="292.5" y="355.6" width="4.5" height="1.6" rx="0.8" fill="#ccc"/>
<rect x="293.0" y="366.2" width="4.5" height="1.6" rx="0.8" fill="#ccc"/>
<rect x="297.5" y="354.5" width="1.3" height="14.2" fill="#888"/>
<line x1="264.00" y1="359.50" x2="301.00" y2="359.50" stroke="#111" stroke-width="1.0"/>
<line x1="264.00" y1="364.40" x2="301.00" y2="364.40" stroke="#111" stroke-width="1.0"/>
<rect x="264" y="360" width="37" height="3.9" fill="#c8c8c8"/>
<line x1="266.00" y1="362.00" x2="300.00" y2="362.00" stroke="#666" stroke-width="0.5"/>
<circle cx="262.4" cy="361.9" r="1.9" fill="#000"/>
<path d="M302,354.25 H309.2 L310,355.25 H344 L345.5,357.5 H302 Z" fill="#bbb" stroke="#222" stroke-width="0.55"/>
<path d="M302,368.75 H309.2 L310,367.75 H344 L345.5,366.25 H302 Z" fill="#bbb" stroke="#222" stroke-width="0.55"/>
<line x1="302.00" y1="354.00" x2="302.00" y2="369.00" stroke="#222" stroke-width="0.8"/>
<rect x="346" y="354.8" width="5" height="2.7" fill="#111"/><rect x="346" y="366.2" width="5" height="2.7" fill="#111"/>
<line x1="345.00" y1="357.25" x2="390.00" y2="357.25" stroke="#222" stroke-width="0.75"/>
<line x1="345.00" y1="366.25" x2="390.00" y2="366.25" stroke="#222" stroke-width="0.75"/>
<rect x="389" y="356.6" width="18.5" height="10.2" fill="#fff" stroke="#111" stroke-width="0.8"/>
<rect x="390" y="357" width="4" height="2.3" fill="#111"/><rect x="390" y="364.3" width="4" height="2.3" fill="#111"/>
<rect x="399" y="356.8" width="3" height="2.3" fill="#111"/><rect x="399" y="364.3" width="3" height="2.3" fill="#111"/>
<rect x="390" y="360.5" width="17" height="2.5" fill="#666"/>
<rect x="396" y="360.8" width="1.3" height="1.9" fill="#fff"/>
<rect x="398.5" y="360.8" width="1.3" height="1.9" fill="#fff"/>
<rect x="401" y="360.8" width="1.3" height="1.9" fill="#fff"/>
<rect x="403.5" y="360.8" width="1.3" height="1.9" fill="#fff"/>
<rect x="407.5" y="355.8" width="15" height="11.7" fill="#999" stroke="#111" stroke-width="0.7"/>
<rect x="413" y="355.8" width="9" height="2.8" fill="#111"/><rect x="413" y="364.7" width="9" height="2.8" fill="#111"/>
<rect x="408" y="359.5" width="14" height="4.5" fill="#ccc"/>
<defs><linearGradient id="rg" x1="0" y1="0" x2="0" y2="1"><stop offset="0" stop-color="#222"/><stop offset="0.3" stop-color="#777"/><stop offset="0.55" stop-color="#aaa"/><stop offset="1" stop-color="#333"/></linearGradient></defs>
<rect x="422.5" y="359.2" width="121.5" height="5" fill="url(#rg)" stroke="#222" stroke-width="0.4"/>
<rect x="544" y="359.2" width="22" height="5" fill="#444" stroke="#222" stroke-width="0.4"/>
<line x1="545.00" y1="359.40" x2="547.00" y2="364.00" stroke="#ddd" stroke-width="0.6"/>
<line x1="547.00" y1="359.40" x2="549.00" y2="364.00" stroke="#ddd" stroke-width="0.6"/>
<line x1="549.00" y1="359.40" x2="551.00" y2="364.00" stroke="#ddd" stroke-width="0.6"/>
<line x1="551.00" y1="359.40" x2="553.00" y2="364.00" stroke="#ddd" stroke-width="0.6"/>
<line x1="553.00" y1="359.40" x2="555.00" y2="364.00" stroke="#ddd" stroke-width="0.6"/>
<line x1="555.00" y1="359.40" x2="557.00" y2="364.00" stroke="#ddd" stroke-width="0.6"/>
<line x1="557.00" y1="359.40" x2="559.00" y2="364.00" stroke="#ddd" stroke-width="0.6"/>
<line x1="559.00" y1="359.40" x2="561.00" y2="364.00" stroke="#ddd" stroke-width="0.6"/>
<line x1="561.00" y1="359.40" x2="563.00" y2="364.00" stroke="#ddd" stroke-width="0.6"/>
<line x1="563.00" y1="359.40" x2="565.00" y2="364.00" stroke="#ddd" stroke-width="0.6"/>
<line x1="565.00" y1="359.40" x2="567.00" y2="364.00" stroke="#ddd" stroke-width="0.6"/>
<rect x="553" y="357" width="2.3" height="9.5" fill="#222"/>
<circle cx="568.8" cy="361.7" r="1" fill="#777"/>
</svg></body></html>
